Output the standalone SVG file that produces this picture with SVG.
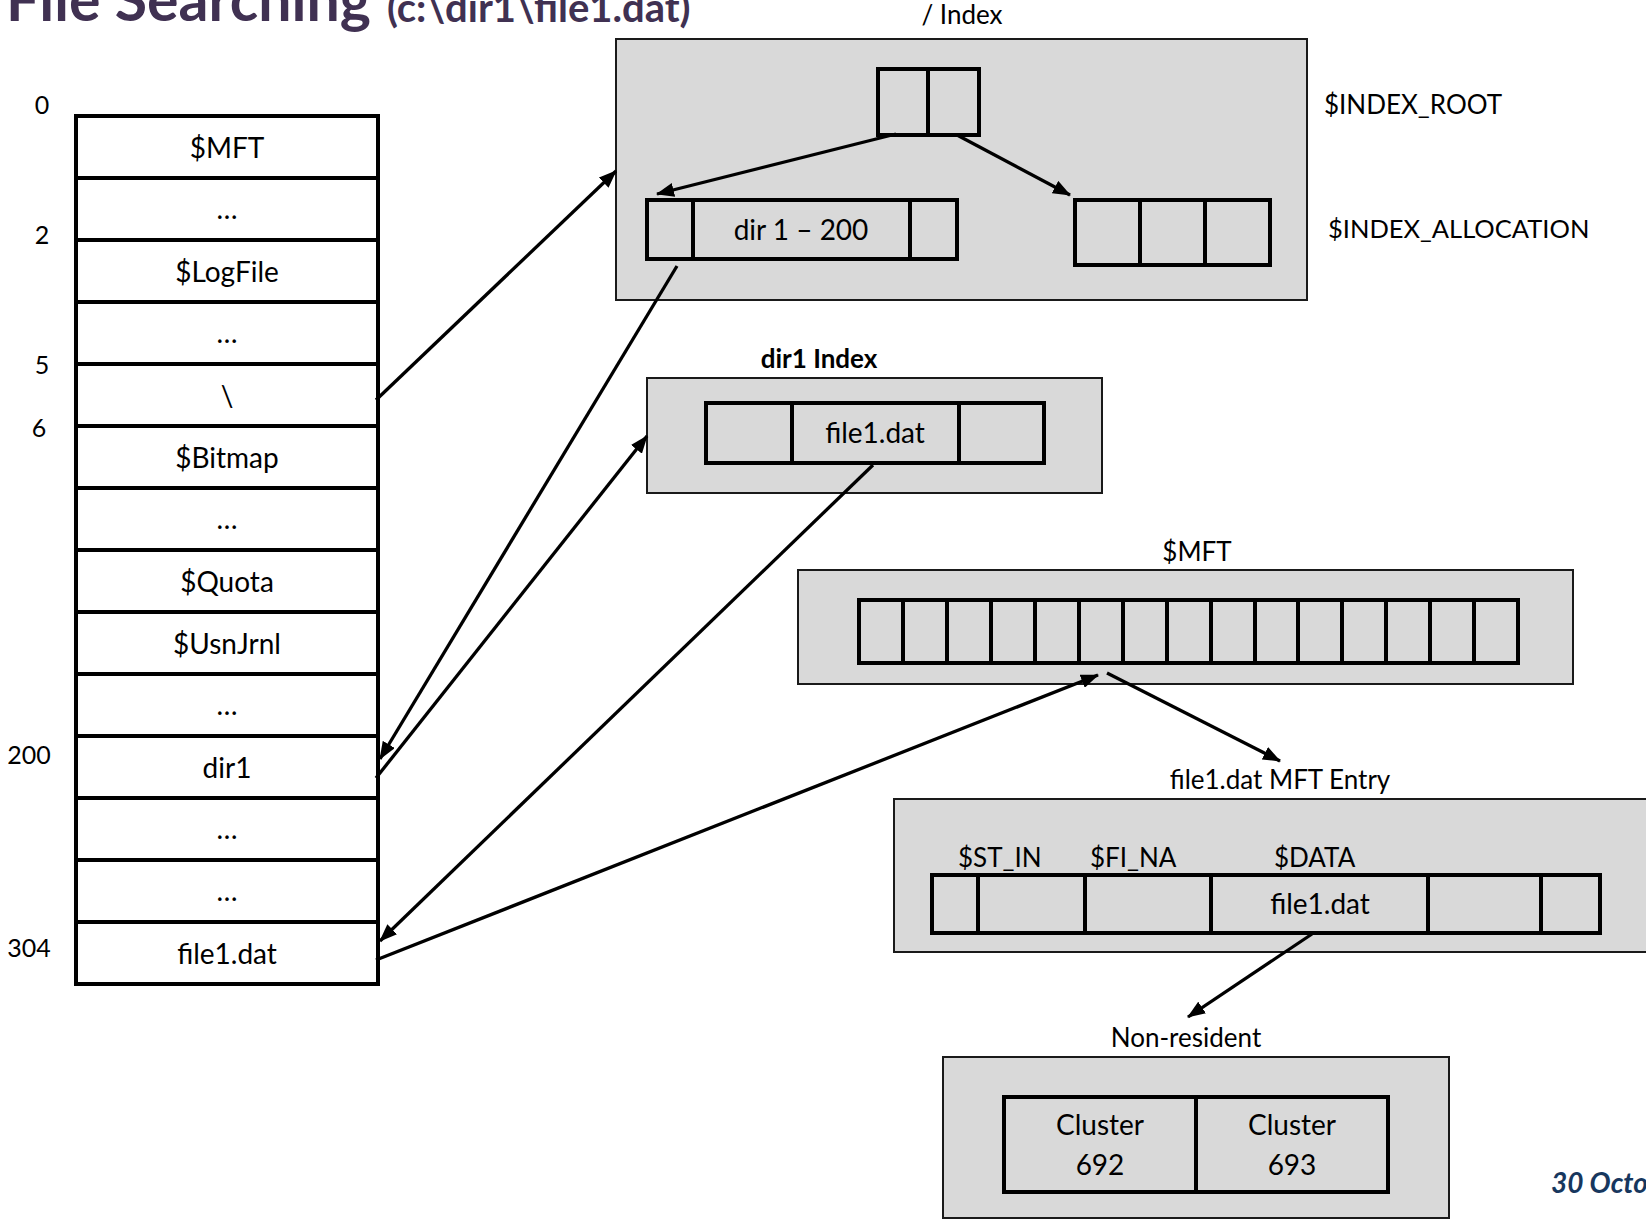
<svg xmlns="http://www.w3.org/2000/svg" width="1646" height="1220" viewBox="0 0 1646 1220">
<style>
text{font-family:Lato,"Open Sans","Liberation Sans",sans-serif;fill:#000}
.cell{font-size:28px;text-anchor:middle}
.num{font-size:25px;text-anchor:middle}
.lbl{font-size:26px}
.mid{text-anchor:middle}
.panel{fill:#d9d9d9;stroke:#1a1a1a;stroke-width:2}
.node{fill:#d9d9d9;stroke:#000;stroke-width:4}
.tbl{fill:#fff;stroke:#000;stroke-width:4}
.div{stroke:#000;stroke-width:4}
.con{fill:none;stroke:#000;stroke-width:3.3;marker-end:url(#ah)}
</style>
<defs>
<marker id="ah" markerUnits="userSpaceOnUse" markerWidth="18" markerHeight="14" refX="17" refY="7" orient="auto">
<path d="M0,0 L18,7 L0,14 z" fill="#000"/>
</marker>
</defs>
<rect width="1646" height="1220" fill="#fff"/>

<g id="title">
<text x="6" y="21" style="font-size:59px;font-weight:bold;fill:#403152">File Searching</text>
<text x="387" y="22" style="font-size:40px;font-weight:bold;fill:#403152">(c:\dir1\file1.dat)</text>
</g>

<g id="mft-table">
<rect class="tbl" x="76" y="116" width="302" height="868"/>
<path class="div" d="M76,178H378M76,240H378M76,302H378M76,364H378M76,426H378M76,488H378M76,550H378M76,612H378M76,674H378M76,736H378M76,798H378M76,860H378M76,922H378"/>
<text class="cell" x="227" y="158">$MFT</text>
<text class="cell" x="227" y="219">…</text>
<text class="cell" x="227" y="282">$LogFile</text>
<text class="cell" x="227" y="343">…</text>
<text class="cell" x="227" y="406">\</text>
<text class="cell" x="227" y="468">$Bitmap</text>
<text class="cell" x="227" y="529">…</text>
<text class="cell" x="227" y="592">$Quota</text>
<text class="cell" x="227" y="654">$UsnJrnl</text>
<text class="cell" x="227" y="715">…</text>
<text class="cell" x="227" y="778">dir1</text>
<text class="cell" x="227" y="839">…</text>
<text class="cell" x="227" y="901">…</text>
<text class="cell" x="227" y="964">file1.dat</text>
<text class="num" x="42" y="114">0</text>
<text class="num" x="42" y="244">2</text>
<text class="num" x="42" y="374">5</text>
<text class="num" x="39" y="437">6</text>
<text class="num" x="29" y="764">200</text>
<text class="num" x="29" y="957">304</text>
</g>

<g id="root-index">
<text class="lbl mid" x="962" y="24">/ Index</text>
<rect class="panel" x="616" y="39" width="691" height="261"/>
<text class="lbl" x="1324" y="114">$INDEX_ROOT</text>
<text class="lbl" x="1328" y="238" style="font-size:25.5px">$INDEX_ALLOCATION</text>
</g>
<g id="root-node">
<rect class="node" x="878" y="69" width="101" height="66"/>
<path class="div" d="M928,69V135"/>
</g>
<g id="dir-node">
<rect class="node" x="647" y="200" width="310" height="59"/>
<path class="div" d="M693,200V259M910,200V259"/>
<text class="cell" x="801" y="240">dir 1 – 200</text>
</g>
<g id="alloc-node">
<rect class="node" x="1075" y="200" width="195" height="65"/>
<path class="div" d="M1140,200V265M1205,200V265"/>
</g>

<g id="dir1-index">
<text class="lbl mid" x="819" y="368" style="font-weight:bold">dir1 Index</text>
<rect class="panel" x="647" y="378" width="455" height="115"/>
<rect class="node" x="706" y="403" width="338" height="60"/>
<path class="div" d="M792,403V463M959,403V463"/>
<text class="cell" x="875" y="443">file1.dat</text>
</g>

<g id="mft">
<text class="lbl mid" x="1197" y="561">$MFT</text>
<rect class="panel" x="798" y="570" width="775" height="114"/>
<rect class="node" x="859" y="600" width="659" height="63"/>
<path class="div" d="M903,600V663M947,600V663M991,600V663M1035,600V663M1079,600V663M1123,600V663M1167,600V663M1211,600V663M1255,600V663M1298,600V663M1342,600V663M1386,600V663M1430,600V663M1474,600V663"/>
</g>

<g id="mft-entry">
<text class="lbl mid" x="1280" y="789">file1.dat MFT Entry</text>
<rect class="panel" x="894" y="799" width="770" height="153"/>
<text class="lbl" x="958" y="867">$ST_IN</text>
<text class="lbl" x="1090" y="867">$FI_NA</text>
<text class="lbl" x="1274" y="867">$DATA</text>
<rect class="node" x="932" y="875" width="668" height="58"/>
<path class="div" d="M978,875V933M1085,875V933M1211,875V933M1428,875V933M1541,875V933"/>
<text class="cell" x="1320" y="914">file1.dat</text>
</g>

<g id="non-resident">
<text class="lbl mid" x="1186" y="1047">Non-resident</text>
<rect class="panel" x="943" y="1057" width="506" height="161"/>
<rect class="node" x="1004" y="1097" width="384" height="95"/>
<path class="div" d="M1196,1097V1192"/>
<text class="cell" x="1100" y="1135">Cluster</text>
<text class="cell" x="1100" y="1175">692</text>
<text class="cell" x="1292" y="1135">Cluster</text>
<text class="cell" x="1292" y="1175">693</text>
</g>

<g id="footer">
<text x="1551" y="1193" style="font-size:28px;font-weight:bold;font-style:italic;fill:#17375e">30 Octo</text>
</g>

<g id="connectors">
<path class="con" d="M376,400L616,171"/>
<path class="con" d="M896,134L657,194"/>
<path class="con" d="M957,135L1070,195"/>
<path class="con" d="M677,266L380,759"/>
<path class="con" d="M376,778L647,436"/>
<path class="con" d="M873,465L380,941"/>
<path class="con" d="M376,960L1098,675"/>
<path class="con" d="M1107,673L1280,761"/>
<path class="con" d="M1312,934L1188,1017"/>
</g>
</svg>
